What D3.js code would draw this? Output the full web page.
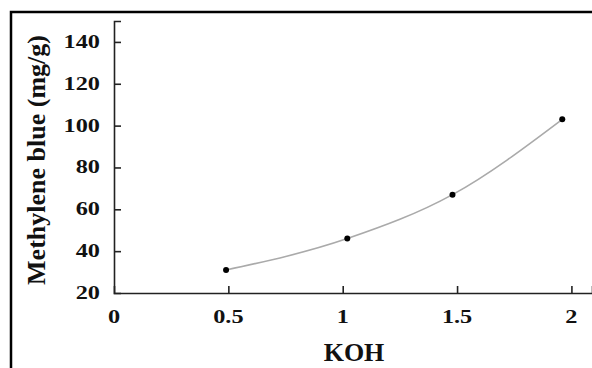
<!DOCTYPE html>
<html>
<head>
<meta charset="utf-8">
<script src="https://cdn.jsdelivr.net/npm/d3@7"></script>
<style>
  body { margin: 0; background: #fff; }
  text { font-family: "Liberation Serif", "Times New Roman", Times, serif; font-weight: 700; fill: #111; }
</style>
</head>
<body>
<div id="chart"></div>
<script>
var koh = [0.49, 1.02, 1.48, 1.96];
var mb = [31, 46, 67, 103];
var xTicks = [0, 0.5, 1, 1.5, 2];
var yTicks = [20, 40, 60, 80, 100, 120, 140];

var fullWidth = 592, fullHeight = 368;
var margin = {top: 21, left: 114, bottom: 293};

var svg = d3.select("#chart").append("svg")
  .attr("width", fullWidth)
  .attr("height", fullHeight);

// outer frame, left and top edges only
svg.append("path")
  .attr("d", "M11," + fullHeight + "V12H" + fullWidth)
  .attr("fill", "none")
  .attr("stroke", "#000")
  .attr("stroke-width", 2.5);

var xScale = d3.scaleLinear().domain([0, 2.09]).range([margin.left, fullWidth]);
var yScale = d3.scaleLinear().domain([20, 150]).range([margin.bottom, margin.top]);

// x axis
var gx = svg.append("g").attr("transform", "translate(0," + margin.bottom + ")");
gx.call(d3.axisTop(xScale).tickValues(xTicks.slice(1)).tickSize(7).tickFormat(""));
gx.select(".domain").attr("stroke", "#222").attr("stroke-width", 1.6);
gx.selectAll(".tick line").attr("stroke", "#222").attr("stroke-width", 1.6);

gx.selectAll(".lbl").data(xTicks).enter().append("text")
  .attr("class", "lbl")
  .attr("transform", function(d) { return "translate(" + xScale(d) + ",30) scale(1.35,1)"; })
  .attr("text-anchor", "middle")
  .style("font-size", "18px")
  .text(function(d) { return d; });

// y axis
var gy = svg.append("g").attr("transform", "translate(" + margin.left + ",0)");
gy.call(d3.axisRight(yScale).tickValues(yTicks.slice(1)).tickSize(7).tickFormat(""));
gy.select(".domain").attr("stroke", "#222").attr("stroke-width", 1.6);
gy.selectAll(".tick line").attr("stroke", "#222").attr("stroke-width", 1.6);

gy.selectAll(".lbl").data(yTicks).enter().append("text")
  .attr("class", "lbl")
  .attr("transform", function(d) { return "translate(-14," + (yScale(d) + 6) + ") scale(1.35,1)"; })
  .attr("text-anchor", "end")
  .style("font-size", "18px")
  .text(function(d) { return d; });

// axis titles
svg.append("text")
  .attr("x", 354).attr("y", 361)
  .attr("text-anchor", "middle")
  .style("font-size", "26px")
  .text("KOH");

svg.append("text")
  .attr("transform", "translate(45,160) rotate(-90)")
  .attr("text-anchor", "middle")
  .style("font-size", "26px")
  .text("Methylene blue (mg/g)");

// fitted curve and points
var pts = koh.map(function(d, i) { return [d, mb[i]]; });
var line = d3.line()
  .x(function(d) { return xScale(d[0]); })
  .y(function(d) { return yScale(d[1]); })
  .curve(d3.curveMonotoneX);

svg.append("path")
  .datum(pts)
  .attr("d", line)
  .attr("fill", "none")
  .attr("stroke", "#aaa")
  .attr("stroke-width", 1.6);

svg.selectAll(".dot").data(pts).enter().append("circle")
  .attr("class", "dot")
  .attr("cx", function(d) { return xScale(d[0]); })
  .attr("cy", function(d) { return yScale(d[1]); })
  .attr("r", 3)
  .attr("fill", "#000");
</script>
</body>
</html>
